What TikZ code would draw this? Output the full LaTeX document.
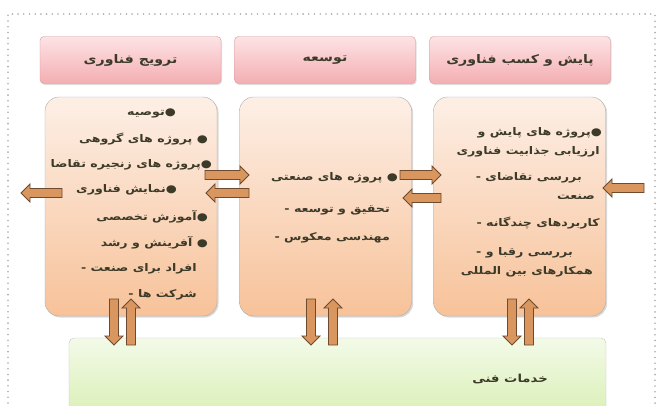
\documentclass[tikz,border=0pt]{standalone}
\usepackage{fontspec}
\usetikzlibrary{calc,shadows}
\TeXXeTstate=1
\newfontfamily\fa[Script=Arabic,FakeStretch=1.2]{DejaVu Sans}
\definecolor{txt}{HTML}{3C3A28}
\definecolor{pinkTop}{HTML}{FDE3E5}
\definecolor{pinkBot}{HTML}{F4AEB2}
\definecolor{pinkBorder}{HTML}{D49A9E}
\definecolor{peachTop}{HTML}{FDEFE6}
\definecolor{peachBot}{HTML}{F7C299}
\definecolor{greenTop}{HTML}{F3FAE8}
\definecolor{greenBot}{HTML}{D6EEAE}
\definecolor{arrFill}{HTML}{D9965F}
\definecolor{arrLine}{HTML}{6E4B2E}
\newcommand\barrow[2]{%
  \path ($(#2)!9pt!(#1)$) coordinate (hb);
  \filldraw[arr] ($(#1)!4.5pt!90:(#2)$) -- ($(hb)!4.5pt!90:(#2)$) -- ($(hb)!9pt!90:(#2)$) -- (#2)
    -- ($(hb)!9pt!-90:(#2)$) -- ($(hb)!4.5pt!-90:(#2)$) -- ($(#1)!4.5pt!-90:(#2)$) -- cycle;}
\begin{document}
\begin{tikzpicture}[x=1pt,y=-1pt,
  hdr/.style={draw=pinkBorder, rounded corners=4pt, top color=pinkTop, bottom color=pinkBot,
    minimum width=181pt, minimum height=47pt, inner sep=0pt,
    drop shadow={opacity=0.25,shadow xshift=1pt,shadow yshift=-1.5pt}},
  hdrtext/.style={font=\fa\bfseries\fontsize{11.8}{14}\selectfont, text=txt, inner sep=0pt},
  content/.style={draw=gray!65, rounded corners=14pt, top color=peachTop, bottom color=peachBot,
    minimum width=172pt, minimum height=219pt, inner sep=0pt,
    drop shadow={opacity=0.3,shadow xshift=1.5pt,shadow yshift=-1.5pt}},
  greenbox/.style={draw=gray!45, rounded corners=5pt, top color=greenTop, bottom color=greenBot,
    minimum width=537pt, minimum height=90pt, inner sep=0pt},
  tx/.style={font=\fa\bfseries\fontsize{10.5}{13}\selectfont, text=txt, inner sep=0pt, anchor=east},
  arr/.style={fill=arrFill, draw=arrLine, line width=0.8pt, line join=miter}
]
\useasboundingbox (0,0) rectangle (660,405);
\clip (0,0) rectangle (660,405);
\fill[white] (0,0) rectangle (660,405);
\draw[gray!65, line width=1.8pt, line cap=round, dash pattern=on 0pt off 5.7pt] (8,420) -- (8,14) -- (655,14) -- (655,420);

% headers
\node[hdr] (hL) at (130.5,60) {};
\node[hdr] (hM) at (325,60) {};
\node[hdr] (hR) at (520,60) {};
\node[hdrtext] (tL) at (hL.center) {\beginR ترویج فناوری\endR};
\node[hdrtext] (tM) at (hM.center) {\beginR توسعه\endR};
\node[hdrtext] (tR) at (hR.center) {\beginR پایش و کسب فناوری\endR};

% content boxes
\node[content] (L) at (131,206.5) {};
\node[content] (M) at (325.5,206.5) {};
\node[content] (R) at (519.5,206.5) {};

% green box
\node[greenbox] (G) at (337.5,383) {};
\node[hdrtext, font=\fa\bfseries\fontsize{11}{13}\selectfont] (tG) at (510,379) {\beginR خدمات فنی\endR};

% left texts
\node[tx] (l1) at (176,113) {\beginR ●توصیه\endR};
\node[tx] (l2) at (208,139) {\beginR ● پروژه های گروهی\endR};
\node[tx] (l3) at (212,165) {\beginR ●پروژه های زنجیره تقاضا\endR};
\node[tx] (l4) at (177,190) {\beginR ●نمایش فناوری\endR};
\node[tx] (l5) at (208,217) {\beginR ●آموزش تخصصی\endR};
\node[tx] (l6) at (208,243) {\beginR ● آفرینش و رشد\endR};
\node[tx] (l7) at (197,269) {- \beginR افراد برای صنعت\endR};
\node[tx] (l8) at (197,295) {- \beginR شرکت ها\endR};

% middle texts
\node[tx] (m1) at (398,178) {\beginR ● پروژه های صنعتی\endR};
\node[tx] (m2) at (390,210) {- \beginR تحقیق و توسعه\endR};
\node[tx] (m3) at (390,238) {- \beginR مهندسی معکوس\endR};

% right texts
\node[tx] (r1) at (602,133) {\beginR ●پروژه های پایش و\endR};
\node[tx] (r2) at (600,152) {\beginR ارزیابی جذابیت فناوری\endR};
\node[tx] (r3) at (582,178) {- \beginR بررسی تقاضای\endR};
\node[tx] (r4) at (595,197) {\beginR صنعت\endR};
\node[tx] (r5) at (600,223) {- \beginR کاربردهای چندگانه\endR};
\node[tx] (r6) at (573,253) {- \beginR بررسی رقبا و\endR};
\node[tx] (r7) at (593,272) {\beginR همکارهای بین المللی\endR};

% arrow end coordinates
\coordinate (lmA) at (205,175);  \coordinate (lmB) at (249,175);
\coordinate (mlA) at (249,193);  \coordinate (mlB) at (206,193);
\coordinate (mrA) at (400,175);  \coordinate (mrB) at (441,175);
\coordinate (rmA) at (441,198);  \coordinate (rmB) at (403,198);
\coordinate (inA) at (644,188);  \coordinate (inB) at (603,188);
\coordinate (outA) at (62,193);  \coordinate (outB) at (21,193);
\coordinate (dLA) at (114,299);  \coordinate (dLB) at (114,345);
\coordinate (uLA) at (131,345);  \coordinate (uLB) at (131,299);
\coordinate (dMA) at (311,299);  \coordinate (dMB) at (311,345);
\coordinate (uMA) at (333,345);  \coordinate (uMB) at (333,299);
\coordinate (dRA) at (512,299);  \coordinate (dRB) at (512,345);
\coordinate (uRA) at (529,345);  \coordinate (uRB) at (529,299);

\barrow{lmA}{lmB}
\barrow{mlA}{mlB}
\barrow{mrA}{mrB}
\barrow{rmA}{rmB}
\barrow{inA}{inB}
\barrow{outA}{outB}
\barrow{dLA}{dLB}
\barrow{uLA}{uLB}
\barrow{dMA}{dMB}
\barrow{uMA}{uMB}
\barrow{dRA}{dRB}
\barrow{uRA}{uRB}
\end{tikzpicture}
\end{document}
